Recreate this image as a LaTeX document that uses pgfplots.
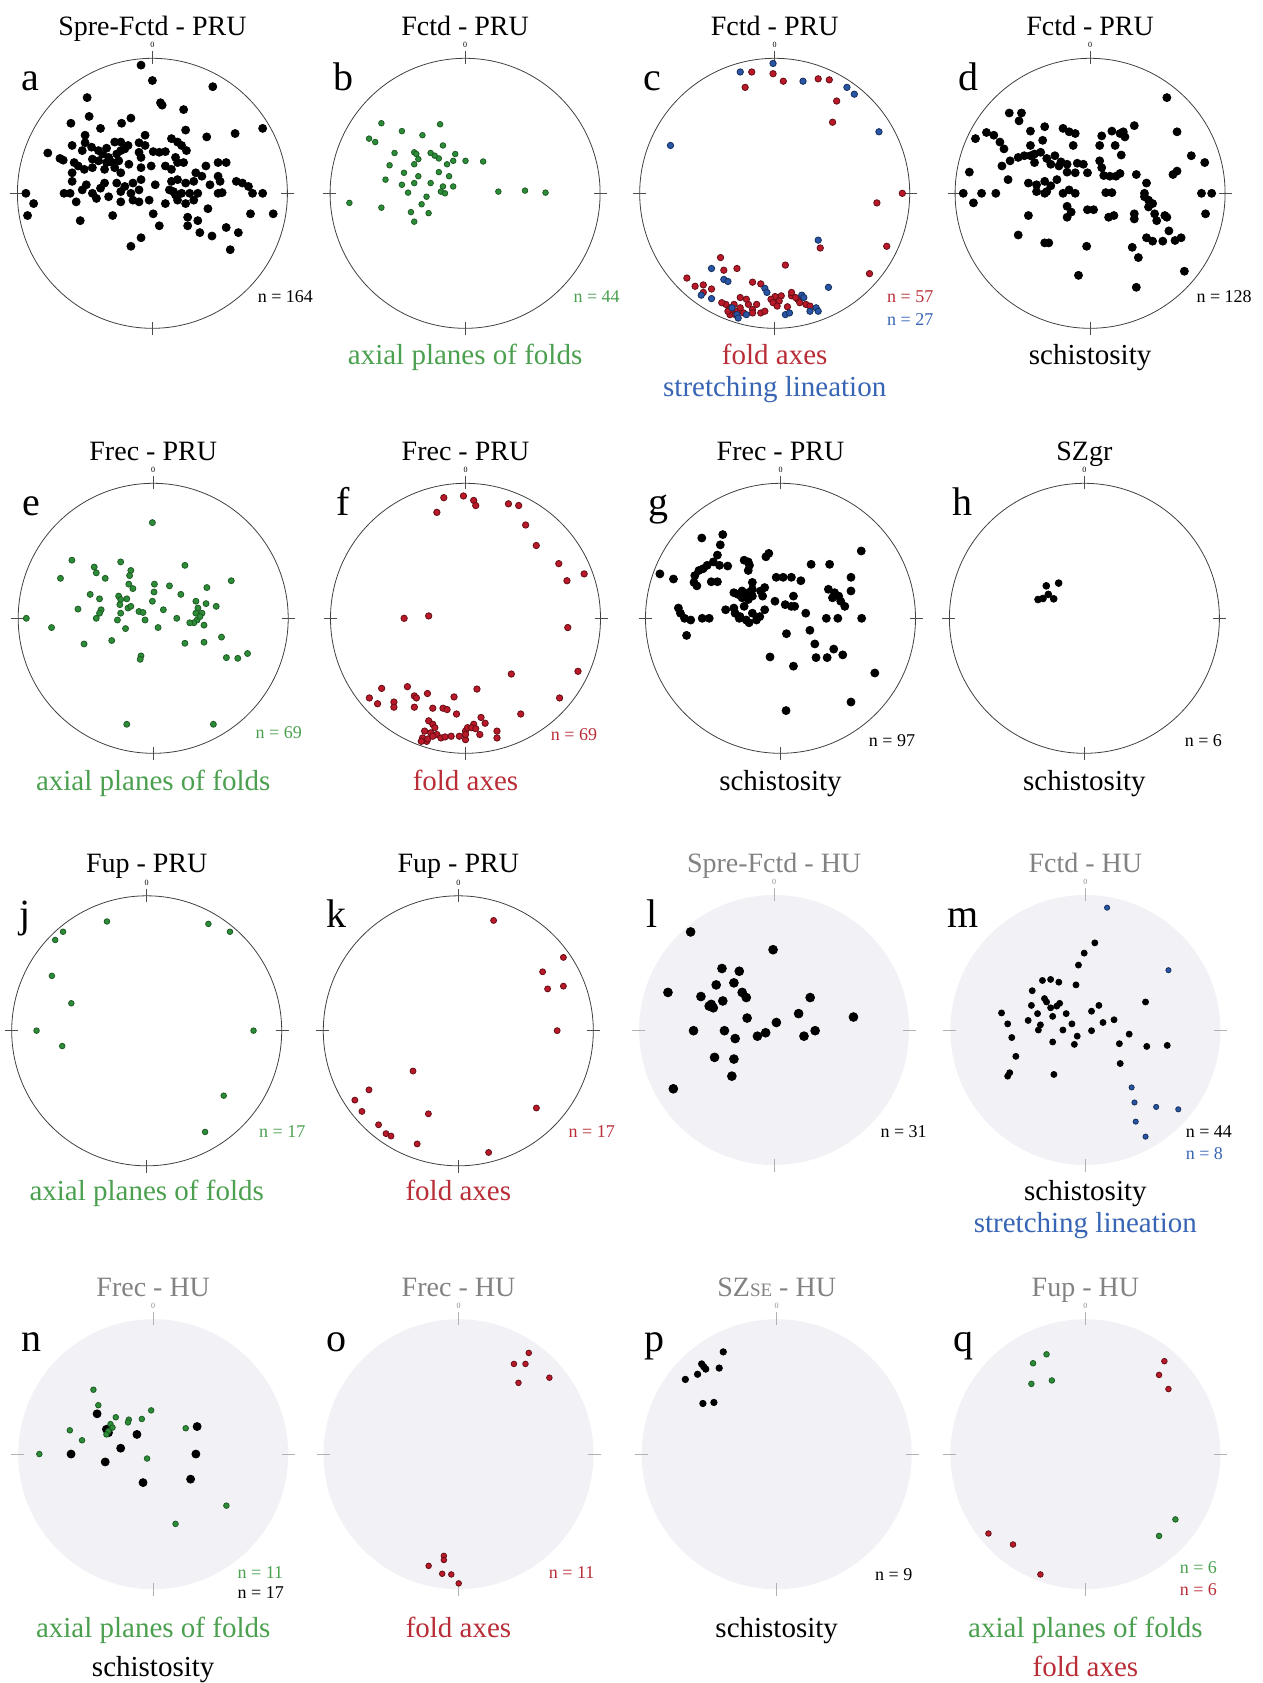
\documentclass[border=0pt]{standalone}
\usepackage{fontspec}
\setmainfont{Liberation Serif}
\usepackage{pgfplots}
\pgfplotsset{compat=1.18}
\definecolor{gdot}{RGB}{45,140,55}
\definecolor{gtxt}{RGB}{75,160,80}
\definecolor{rdot}{RGB}{185,25,40}
\definecolor{rtxt}{RGB}{185,45,55}
\definecolor{bdot}{RGB}{40,85,165}
\definecolor{btxt}{RGB}{55,100,180}
\definecolor{hufill}{RGB}{242,242,246}
\definecolor{hutitle}{RGB}{130,130,130}
\pgfplotsset{
  st/.style={scale only axis, width=135pt, height=135pt, hide axis, clip=false, y dir=reverse, anchor=center},
  kd/.style={only marks, mark=*, mark size=#1, mark options={fill=black, draw=black}},
  gd/.style={only marks, mark=*, mark size=#1, mark options={fill=gdot, draw=gdot!65!black}},
  rd/.style={only marks, mark=*, mark size=#1, mark options={fill=rdot, draw=rdot!55!black}},
  bd/.style={only marks, mark=*, mark size=#1, mark options={fill=bdot, draw=bdot!55!black}},
}
\begin{document}
\begin{tikzpicture}[
  pan/.style 2 args={shift={(#1*0.5pt,-#2*0.5pt)},x=0.5pt,y=0.5pt},
  ttl/.style={anchor=base, inner sep=0pt, font=\fontsize{14}{16}\selectfont},
  let/.style={anchor=base, inner sep=0pt, font=\fontsize{20}{22}\selectfont},
  nl/.style={anchor=base west, inner sep=0pt, font=\fontsize{9}{10}\selectfont},
  bl/.style={anchor=base, inner sep=0pt, font=\fontsize{14.5}{16}\selectfont},
  zero/.style={inner sep=0pt, font=\fontsize{4}{4}\selectfont},
  circ/.style={line width=0.4pt, draw=black!75},
  tk/.style={line width=0.35pt, draw=black!70},
  tkg/.style={line width=0.35pt, draw=black!30},
  tkp/.style={insert path={(0,129)--(0,142) (0,-129)--(0,-142) (-142,0)--(-129,0) (129,0)--(142,0)}},
]
\useasboundingbox (0,0) rectangle (631.5pt,-841.5pt);

% ---------------- frames ----------------
% a
\begin{scope}[pan={152.4}{193.3}]
\draw[circ] (0,0) circle[radius=67.5pt];
\draw[tk, tkp];
\node[zero] at (0,148) {0};
\node[ttl] at (0,158) {Spre-Fctd - PRU};
\node[let] at (-122,103) {a};
\node[nl] at (105,-109) {n = 164};
\end{scope}
% b
\begin{scope}[pan={465.1}{193.3}]
\draw[circ] (0,0) circle[radius=67.5pt];
\draw[tk, tkp];
\node[zero] at (0,148) {0};
\node[ttl] at (0,158) {Fctd - PRU};
\node[let] at (-122,103) {b};
\node[nl, text=gtxt] at (108,-109) {n = 44};
\node[bl, text=gtxt] at (0,-171) {axial planes of folds};
\end{scope}
% c
\begin{scope}[pan={774.7}{193.3}]
\draw[circ] (0,0) circle[radius=67.5pt];
\draw[tk, tkp];
\node[zero] at (0,148) {0};
\node[ttl] at (0,158) {Fctd - PRU};
\node[let] at (-122,103) {c};
\node[nl, text=rtxt] at (112,-109) {n = 57};
\node[nl, text=btxt] at (112,-132) {n = 27};
\node[bl, text=rtxt] at (0,-171) {fold axes};
\node[bl, text=btxt] at (0,-203) {stretching lineation};
\end{scope}
% d
\begin{scope}[pan={1090.1}{193.3}]
\draw[circ] (0,0) circle[radius=67.5pt];
\draw[tk, tkp];
\node[zero] at (0,148) {0};
\node[ttl] at (0,158) {Fctd - PRU};
\node[let] at (-122,103) {d};
\node[nl] at (106,-109) {n = 128};
\node[bl] at (0,-171) {schistosity};
\end{scope}
% e
\begin{scope}[pan={153.2}{618.3}]
\draw[circ] (0,0) circle[radius=67.5pt];
\draw[tk, tkp];
\node[zero] at (0,148) {0};
\node[ttl] at (0,158) {Frec - PRU};
\node[let] at (-122,103) {e};
\node[nl, text=gtxt] at (102,-120) {n = 69};
\node[bl, text=gtxt] at (0,-172) {axial planes of folds};
\end{scope}
% f
\begin{scope}[pan={465.5}{618.3}]
\draw[circ] (0,0) circle[radius=67.5pt];
\draw[tk, tkp];
\node[zero] at (0,148) {0};
\node[ttl] at (0,158) {Frec - PRU};
\node[let] at (-122,103) {f};
\node[nl, text=rtxt] at (85,-122) {n = 69};
\node[bl, text=rtxt] at (0,-172) {fold axes};
\end{scope}
% g
\begin{scope}[pan={780.5}{618.3}]
\draw[circ] (0,0) circle[radius=67.5pt];
\draw[tk, tkp];
\node[zero] at (0,148) {0};
\node[ttl] at (0,158) {Frec - PRU};
\node[let] at (-122,103) {g};
\node[nl] at (88,-128) {n = 97};
\node[bl] at (0,-172) {schistosity};
\end{scope}
% h
\begin{scope}[pan={1084.4}{618.3}]
\draw[circ] (0,0) circle[radius=67.5pt];
\draw[tk, tkp];
\node[zero] at (0,148) {0};
\node[ttl] at (0,158) {SZgr};
\node[let] at (-122,103) {h};
\node[nl] at (100,-128) {n = 6};
\node[bl] at (0,-172) {schistosity};
\end{scope}
% j
\begin{scope}[pan={146.7}{1030.8}]
\draw[circ] (0,0) circle[radius=67.5pt];
\draw[tk, tkp];
\node[zero] at (0,148) {0};
\node[ttl] at (0,158) {Fup - PRU};
\node[let] at (-122,103) {j};
\node[nl, text=gtxt] at (112,-107) {n = 17};
\node[bl, text=gtxt] at (0,-170) {axial planes of folds};
\end{scope}
% k
\begin{scope}[pan={458.3}{1030.8}]
\draw[circ] (0,0) circle[radius=67.5pt];
\draw[tk, tkp];
\node[zero] at (0,148) {0};
\node[ttl] at (0,158) {Fup - PRU};
\node[let] at (-122,103) {k};
\node[nl, text=rtxt] at (110,-107) {n = 17};
\node[bl, text=rtxt] at (0,-170) {fold axes};
\end{scope}
% l
\begin{scope}[pan={774.1}{1030}]
\fill[hufill] (0,0) circle[radius=67.5pt];
\draw[tkg, tkp];
\node[zero, text=black!45] at (0,148) {0};
\node[ttl, text=hutitle] at (0,158) {Spre-Fctd - HU};
\node[let] at (-122,103) {l};
\node[nl] at (106,-107) {n = 31};
\end{scope}
% m
\begin{scope}[pan={1085.4}{1030}]
\fill[hufill] (0,0) circle[radius=67.5pt];
\draw[tkg, tkp];
\node[zero, text=black!45] at (0,148) {0};
\node[ttl, text=hutitle] at (0,158) {Fctd - HU};
\node[let] at (-122,103) {m};
\node[nl] at (100,-107) {n = 44};
\node[nl, text=btxt] at (100,-129) {n = 8};
\node[bl] at (0,-170) {schistosity};
\node[bl, text=btxt] at (0,-202) {stretching lineation};
\end{scope}
% n
\begin{scope}[pan={153.2}{1454.2}]
\fill[hufill] (0,0) circle[radius=67.5pt];
\draw[tkg, tkp];
\node[zero, text=black!45] at (0,148) {0};
\node[ttl, text=hutitle] at (0,158) {Frec - HU};
\node[let] at (-122,103) {n};
\node[nl, text=gtxt] at (84,-124) {n = 11};
\node[nl] at (84,-144) {n = 17};
\node[bl, text=gtxt] at (0,-183) {axial planes of folds};
\node[bl] at (0,-222) {schistosity};
\end{scope}
% o
\begin{scope}[pan={458.5}{1454.2}]
\fill[hufill] (0,0) circle[radius=67.5pt];
\draw[tkg, tkp];
\node[zero, text=black!45] at (0,148) {0};
\node[ttl, text=hutitle] at (0,158) {Frec - HU};
\node[let] at (-122,103) {o};
\node[nl, text=rtxt] at (90,-124) {n = 11};
\node[bl, text=rtxt] at (0,-183) {fold axes};
\end{scope}
% p
\begin{scope}[pan={776.7}{1454.2}]
\fill[hufill] (0,0) circle[radius=67.5pt];
\draw[tkg, tkp];
\node[zero, text=black!45] at (0,148) {0};
\node[ttl, text=hutitle] at (0,158) {SZ{\fontsize{9.5}{10}\selectfont SE} - HU};
\node[let] at (-122,103) {p};
\node[nl] at (98,-126) {n = 9};
\node[bl] at (0,-183) {schistosity};
\end{scope}
% q
\begin{scope}[pan={1085.4}{1454.2}]
\fill[hufill] (0,0) circle[radius=67.5pt];
\draw[tkg, tkp];
\node[zero, text=black!45] at (0,148) {0};
\node[ttl, text=hutitle] at (0,158) {Fup - HU};
\node[let] at (-122,103) {q};
\node[nl, text=gtxt] at (94,-119) {n = 6};
\node[nl, text=rtxt] at (94,-141) {n = 6};
\node[bl, text=gtxt] at (0,-183) {axial planes of folds};
\node[bl, text=rtxt] at (0,-222) {fold axes};
\end{scope}

% ---------------- data ----------------
% a
\begin{axis}[st, at={(152.4*0.5pt,-193.3*0.5pt)}, xmin=45, xmax=711, ymin=185, ymax=975]
\addplot[kd=2pt] coordinates {(350,205) (378,250) (527,268) (217,300) (398,315) (402,322) (455,335) (325,360) (222,355) (177,375) (302,375) (250,390) (650,390) (460,395) (582,405) (512,415) (212,410) (360,410) (120,462) (150,478) (158,483) (180,440) (212,432) (205,455) (228,445) (245,455) (265,448) (285,430) (300,430) (318,440) (345,432) (360,440) (380,458) (395,460) (410,458) (425,420) (440,430) (450,440) (462,455) (435,475) (440,490) (455,490) (345,460) (350,475) (255,465) (270,475) (290,465) (300,455) (310,450) (265,490) (280,490) (295,485) (230,480) (245,485) (185,490) (195,500) (180,520) (210,510) (230,505) (260,510) (285,505) (300,520) (320,495) (350,505) (375,500) (410,500) (425,510) (510,500) (540,490) (560,490) (485,520) (500,530) (540,530) (545,545) (180,545) (215,555) (260,550) (290,550) (330,550) (350,540) (385,555) (425,545) (440,540) (460,550) (480,545) (520,555) (585,545) (600,550) (160,580) (175,580) (205,570) (230,580) (250,565) (300,575) (310,560) (325,580) (345,570) (420,570) (430,575) (435,585) (450,580) (470,580) (490,580) (540,580) (550,578) (625,580) (650,580) (615,560) (66,580) (85,610) (70,645) (190,605) (240,595) (270,590) (300,605) (330,600) (345,605) (370,600) (410,610) (440,600) (460,610) (480,600) (200,660) (280,645) (380,640) (465,650) (490,660) (515,625) (620,640) (676,640) (395,675) (465,675) (495,695) (525,705) (560,680) (590,695) (325,735) (350,710) (570,745)};
\end{axis}
% b
\begin{axis}[st, at={(465.1*0.5pt,-193.3*0.5pt)}, xmin=825, xmax=1483, ymin=185, ymax=975]
\addplot[gd=1.4pt] coordinates {(950,375) (1093,378) (1000,398) (1050,410) (920,420) (935,430) (1100,440) (982,462) (1030,460) (1035,465) (1070,462) (1130,465) (1090,478) (1125,485) (1155,485) (1198,487) (970,498) (1030,495) (1110,495) (1090,518) (1040,530) (960,540) (1030,550) (1070,550) (1100,560) (1125,560) (1095,575) (1105,580) (1015,578) (1235,575) (1300,572) (1350,578) (872,608) (950,622) (1048,612) (1022,635) (1065,638) (1030,663) (1005,520) (1115,530) (1040,480) (1080,470) (1060,590) (1000,555)};
\end{axis}
% c
\begin{axis}[st, at={(774.7*0.5pt,-193.3*0.5pt)}, xmin=25, xmax=683, ymin=185, ymax=975]
\addplot[rd=1.6pt] coordinates {(298,225) (282,270) (350,230) (375,252) (460,245) (487,248) (505,310) (495,372) (603,608) (665,580) (465,740) (627,735) (585,815) (222,768) (262,800) (230,805) (140,828) (180,848) (160,852) (300,840) (320,845) (380,790) (355,882) (345,890) (370,880) (395,880) (410,890) (385,912) (270,885) (290,905) (245,915) (250,930) (262,925) (278,930) (300,920) (320,930) (235,905) (430,905) (440,910) (395,870) (405,885) (245,935) (258,935) (225,900) (270,915) (310,905) (350,900) (365,895) (330,925) (285,890) (180,870) (415,900) (300,930) (240,925) (360,910) (255,905) (200,860)};
\addplot[bd=1.6pt] coordinates {(270,225) (350,200) (423,252) (530,270) (548,290) (608,400) (100,440) (460,717) (200,800) (230,832) (240,838) (175,878) (200,888) (330,858) (335,870) (420,878) (425,885) (455,915) (460,925) (380,935) (390,930) (485,855) (250,915) (262,935) (440,925) (265,945) (285,935)};
\end{axis}
% d
\begin{axis}[st, at={(1090.1*0.5pt,-193.3*0.5pt)}, xmin=805, xmax=1468, ymin=185, ymax=975]
\addplot[kd=2pt] coordinates {(938,345) (968,345) (962,368) (1325,300) (1025,385) (1245,382) (855,420) (882,402) (900,410) (990,398) (1070,390) (1085,400) (1100,405) (1165,412) (1190,398) (1210,405) (1222,415) (1218,400) (1350,400) (915,430) (925,450) (990,440) (1020,425) (1095,440) (1160,440) (1198,440) (1213,468) (1385,470) (1418,490) (940,485) (960,475) (975,470) (990,470) (1000,465) (1015,460) (1030,478) (1050,470) (1065,488) (920,500) (1000,490) (1040,495) (1060,500) (1080,495) (1105,492) (1120,495) (1160,485) (1165,505) (840,518) (1080,518) (1100,520) (1130,520) (1170,528) (1185,530) (1200,530) (1210,522) (1250,525) (1340,525) (1350,515) (935,540) (985,550) (1005,555) (1025,545) (1040,558) (1055,540) (1100,580) (1070,580) (1085,570) (1025,580) (1030,575) (1005,575) (825,580) (870,580) (905,580) (850,608) (1175,578) (1190,578) (1275,550) (1270,590) (1280,600) (1290,610) (1410,580) (1435,580) (1420,640) (985,645) (1080,618) (1090,635) (1080,650) (1130,628) (1145,628) (1182,650) (1195,645) (1245,640) (1245,655) (1295,640) (1300,660) (1320,645) (1330,690) (1275,710) (1290,720) (1315,720) (1345,718) (1360,710) (960,702) (1025,725) (1035,725) (1128,735) (1240,738) (1255,768) (1108,820) (1250,855) (1368,808) (1325,650) (1270,580) (1280,620)};
\end{axis}
% e
\begin{axis}[st, at={(153.2*0.5pt,-618.3*0.5pt)}, xmin=48, xmax=712, ymin=260, ymax=1050]
\addplot[gd=1.5pt] coordinates {(378,375) (180,485) (300,490) (458,500) (152,538) (235,505) (240,522) (262,538) (325,515) (322,530) (572,545) (383,555) (420,560) (512,565) (320,555) (330,568) (225,585) (248,598) (295,590) (300,600) (315,598) (382,578) (378,605) (448,585) (485,605) (510,612) (535,620) (195,628) (252,630) (248,640) (298,615) (318,625) (325,620) (345,635) (355,638) (405,630) (490,625) (500,640) (488,660) (480,668) (470,668) (240,655) (292,660) (300,640) (360,660) (438,655) (68,655) (130,682) (312,685) (392,682) (505,675) (278,720) (210,730) (458,728) (505,725) (548,710) (350,765) (348,775) (560,770) (588,772) (612,758) (315,965) (528,965) (485,640) (495,650)};
\end{axis}
% f
\begin{axis}[st, at={(465.5*0.5pt,-618.3*0.5pt)}, xmin=825, xmax=1485, ymin=260, ymax=1050]
\addplot[rd=1.6pt] coordinates {(1102,302) (1150,297) (1175,310) (1180,325) (1085,345) (1260,320) (1285,325) (1302,382) (1328,442) (1383,495) (1445,525) (1403,545) (1005,655) (1065,648) (1405,682) (1267,818) (1430,810) (1385,888) (1290,935) (950,860) (1013,855) (920,888) (940,905) (980,900) (1030,882) (1035,888) (1062,875) (1127,885) (1183,862) (980,915) (1030,915) (1075,918) (1100,918) (1110,922) (1133,935) (1065,955) (1075,965) (1080,975) (1055,985) (1070,990) (1085,995) (1095,1005) (1050,1005) (1060,1015) (1105,1002) (1120,1000) (1140,1000) (1155,985) (1160,975) (1175,965) (1170,975) (1193,945) (1203,962) (1190,995) (1232,985) (1232,1005) (1155,1010) (1063,1008) (1047,1015) (1075,1000) (1155,995) (1180,978)};
\end{axis}
% g
\begin{axis}[st, at={(780.5*0.5pt,-618.3*0.5pt)}, xmin=40, xmax=697, ymin=260, ymax=1050]
\addplot[kd=2pt] coordinates {(177,420) (228,410) (222,440) (75,525) (108,540) (160,530) (170,515) (180,510) (190,500) (205,490) (215,470) (220,500) (240,502) (158,550) (165,560) (200,548) (215,548) (280,485) (290,490) (293,500) (290,515) (340,465) (333,475) (443,497) (488,497) (565,458) (358,535) (375,535) (395,535) (418,545) (540,535) (300,550) (255,580) (265,585) (275,575) (290,580) (300,570) (320,575) (330,565) (275,595) (290,600) (300,590) (325,590) (485,570) (500,580) (510,590) (540,575) (495,595) (515,605) (525,620) (120,625) (125,640) (135,655) (150,660) (178,655) (195,655) (235,630) (255,625) (258,640) (270,650) (285,660) (292,668) (300,640) (310,660) (318,650) (330,630) (355,605) (380,615) (395,620) (403,620) (400,590) (430,640) (480,655) (508,655) (566,655) (140,705) (383,700) (440,690) (452,730) (455,770) (482,770) (498,745) (520,762) (343,768) (400,795) (598,815) (540,900) (382,925) (268,655) (280,620)};
\end{axis}
% h
\begin{axis}[st, at={(1084.4*0.5pt,-618.3*0.5pt)}, xmin=795, xmax=1450, ymin=260, ymax=1050]
\addplot[kd=1.7pt] coordinates {(1030,560) (1060,552) (1010,600) (1022,597) (1035,585) (1048,598)};
\end{axis}
% j
\begin{axis}[st, at={(146.7*0.5pt,-1030.8*0.5pt)}, xmin=38, xmax=690, ymin=268, ymax=1057]
\addplot[gd=1.4pt] coordinates {(268,343) (513,350) (565,373) (162,373) (143,397) (135,502) (182,582) (98,662) (160,707) (622,662) (550,852) (505,958)};
\end{axis}
% k
\begin{axis}[st, at={(458.3*0.5pt,-1030.8*0.5pt)}, xmin=812, xmax=1462, ymin=268, ymax=1057]
\addplot[rd=1.5pt] coordinates {(1222,340) (1390,448) (1340,490) (1390,532) (1352,540) (1375,662) (1028,780) (922,835) (888,865) (905,898) (945,937) (963,963) (975,970) (1065,905) (1038,993) (1210,1018) (1325,888)};
\end{axis}
% l
\begin{axis}[st, at={(774.1*0.5pt,-1030*0.5pt)}, xmin=25, xmax=680, ymin=265, ymax=1055]
\addplot[kd=2.2pt] coordinates {(150,373) (350,425) (95,550) (226,480) (268,488) (212,528) (255,522) (175,562) (228,575) (195,590) (205,595) (200,585) (275,550) (285,565) (440,565) (412,612) (287,625) (358,638) (157,662) (232,662) (258,685) (312,678) (332,668) (425,678) (452,662) (545,622) (208,740) (255,745) (250,795) (108,832)};
\end{axis}
% m
\begin{axis}[st, at={(1085.4*0.5pt,-1030*0.5pt)}, xmin=795, xmax=1455, ymin=265, ymax=1055]
\addplot[kd=1.5pt] coordinates {(1148,405) (1122,435) (1108,470) (1102,528) (1020,515) (1040,512) (1060,520) (995,545) (1025,568) (1030,578) (993,588) (1040,595) (1055,590) (1062,582) (1008,612) (1078,612) (1140,605) (1158,588) (1272,578) (920,610) (935,642) (985,632) (1015,645) (1010,660) (1045,620) (1092,642) (1070,660) (1140,662) (1168,638) (1195,630) (1232,672) (1105,678) (1098,702) (1045,695) (945,682) (1208,700) (1275,708) (1325,705) (955,737) (1210,758) (940,785) (935,795) (1048,790)};
\addplot[bd=1.3pt] coordinates {(1178,302) (1328,485) (1238,828) (1245,872) (1298,885) (1352,892) (1248,928) (1272,972)};
\end{axis}
% n
\begin{axis}[st, at={(153.2*0.5pt,-1454.2*0.5pt)}, xmin=48, xmax=712, ymin=280, ymax=1065]
\addplot[kd=2pt] coordinates {(242,555) (265,600) (340,615) (300,655) (178,672) (262,695) (488,592) (485,672) (355,755) (472,745) (270,610)};
\addplot[gd=1.4pt] coordinates {(233,485) (245,530) (375,545) (352,570) (288,565) (320,572) (318,580) (275,585) (280,595) (270,605) (265,615) (175,603) (205,632) (460,597) (100,672) (365,685) (560,822) (435,875)};
\end{axis}
% o
\begin{axis}[st, at={(458.5*0.5pt,-1454.2*0.5pt)}, xmin=810, xmax=1465, ymin=280, ymax=1065]
\addplot[rd=1.4pt] coordinates {(1308,378) (1272,410) (1300,410) (1283,465) (1358,450) (1102,968) (1102,980) (1065,997) (1098,1020) (1120,1022) (1138,1048)};
\end{axis}
% p
\begin{axis}[st, at={(776.7*0.5pt,-1454.2*0.5pt)}, xmin=28, xmax=690, ymin=280, ymax=1065]
\addplot[kd=1.6pt] coordinates {(228,375) (175,410) (185,425) (218,422) (165,440) (135,455) (178,525) (205,522) (180,418)};
\end{axis}
% q
\begin{axis}[st, at={(1085.4*0.5pt,-1454.2*0.5pt)}, xmin=795, xmax=1455, ymin=280, ymax=1065]
\addplot[gd=1.4pt] coordinates {(1030,382) (997,408) (993,468) (1043,458) (1345,862) (1305,910)};
\addplot[rd=1.4pt] coordinates {(1318,402) (1305,442) (1328,483) (888,903) (948,935) (1015,1022)};
\end{axis}
\end{tikzpicture}
\end{document}
